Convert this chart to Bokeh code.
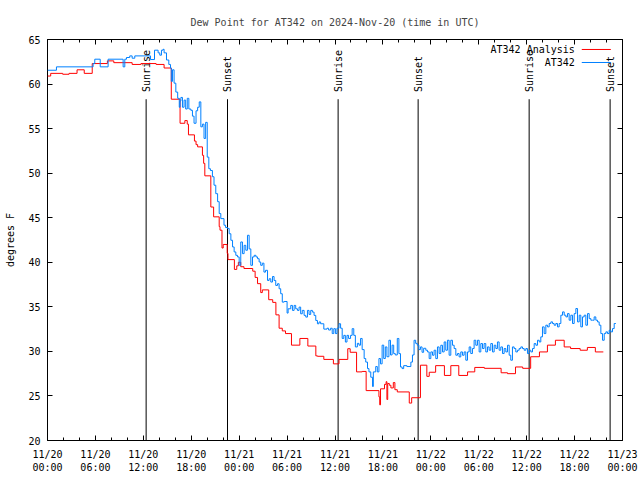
import math
from bokeh.plotting import figure
from bokeh.models import Range1d, FixedTicker, LinearAxis
from bokeh.embed import file_html
from bokeh.resources import INLINE
from bokeh.core.properties import value

# ---------------- data (hours since 2024-11-20 00:00 UTC) ----------------
title_text = "Dew Point for AT342 on 2024-Nov-20 (time in UTC)"
y_label = "degrees F"
series_names = ["AT342 Analysis", "AT342"]

x_ticks = [0, 6, 12, 18, 24, 30, 36, 42, 48, 54, 60, 66, 72]
x_tick_labels = ["11/20\n00:00", "11/20\n06:00", "11/20\n12:00", "11/20\n18:00",
                 "11/21\n00:00", "11/21\n06:00", "11/21\n12:00", "11/21\n18:00",
                 "11/22\n00:00", "11/22\n06:00", "11/22\n12:00", "11/22\n18:00",
                 "11/23\n00:00"]
x_minor = [0, 2, 4, 6, 8, 10, 12, 14, 16, 18, 20, 22, 24, 26, 28, 30, 32, 34, 36,
           38, 40, 42, 44, 46, 48, 50, 52, 54, 56, 58, 60, 62, 64, 66, 68, 70, 72]
y_ticks = [20, 25, 30, 35, 40, 45, 50, 55, 60, 65]

sun_hours = [12.35, 22.54, 36.39, 46.41, 60.31, 70.45]
sun_labels = ["Sunrise", "Sunset", "Sunrise", "Sunset", "Sunrise", "Sunset"]

analysis_hours = [0.0, 0.4, 1.9, 2.7, 3.7, 4.6, 5.6, 7.5, 8.3, 10.6, 11.7, 13.6, 14.6,
                  15.5, 16.6, 17.2, 17.5, 17.65, 18.4, 18.6, 18.8, 19.4, 19.55, 19.7,
                  20.45, 20.8, 21.5, 21.6, 21.85, 22.0, 22.5, 22.6, 23.4, 23.7, 23.9,
                  24.2, 24.6, 25.7, 26.0, 26.3, 26.7, 26.9, 27.7, 28.2, 28.6, 29.0,
                  29.4, 29.8, 30.55, 31.6, 32.6, 33.6, 33.8, 34.6, 35.8, 36.5, 37.6,
                  37.9, 38.7, 39.4, 39.9, 41.5, 41.6, 41.7, 42.2, 42.4, 42.5, 42.6,
                  42.8, 43.0, 43.3, 43.5, 43.8, 45.3, 45.6, 46.7, 47.5, 47.8, 48.6,
                  49.7, 50.5, 51.5, 52.6, 53.5, 54.7, 56.8, 57.6, 58.6, 59.5, 60.5,
                  61.6, 62.6, 63.6, 64.7, 65.5, 66.7, 67.6, 68.6, 69.6]
analysis_dewpt = [60.9, 61.2, 61.1, 61.2, 61.6, 61.2, 62.3, 62.6, 62.4, 62.2, 62.3, 62.2, 61.8,
                  58.3, 55.6, 55.9, 55.5, 54.3, 53.6, 53.2, 52.95, 52.0, 51.1, 49.7,
                  46.2, 45.1, 44.0, 43.6, 41.6, 42.0, 41.0, 40.3, 39.2, 39.6, 40.0,
                  39.5, 39.3, 39.0, 38.3, 37.6, 36.6, 36.9, 35.8, 35.5, 34.1, 32.6,
                  32.3, 32.0, 30.7, 31.45, 30.6, 29.5, 29.45, 29.1, 28.6, 29.1, 30.3,
                  29.9, 27.7, 27.75, 25.6, 24.9, 24.0, 25.8, 26.3, 26.6, 24.6, 26.4,
                  26.2, 25.9, 26.5, 25.7, 25.45, 24.2, 24.8, 28.45, 27.2, 27.66, 28.4,
                  27.3, 28.4, 27.3, 27.7, 28.2, 28.1, 27.6, 27.5, 28.25, 28.1, 29.4,
                  29.94, 30.7, 31.25, 30.5, 30.32, 30.13, 30.44, 29.94, 29.94]

obs_hours_a = [0.0, 1.12, 5.71, 5.92, 6.6, 7.59, 9.47, 9.68, 9.89, 10.3, 10.6, 10.93,
               12.9, 13.4, 13.85, 14.06, 14.27, 14.47, 14.6, 14.9, 15.19, 15.4, 15.5,
               15.65, 15.85, 16.07, 16.3, 16.5, 16.6, 16.7, 16.9, 17.1, 17.3, 17.5,
               17.7, 17.95, 18.15, 18.35, 18.6, 18.8, 19.0, 19.2, 19.4, 19.6, 19.8,
               20.0, 20.2, 20.4, 20.65, 20.85, 21.07, 21.3, 21.5, 21.7, 22.1, 22.3]
obs_dewpt_a = [61.55, 61.93, 62.3, 62.79, 61.93, 62.79, 61.93, 62.79, 62.98, 63.16, 62.9, 63.16,
               62.75, 63.8, 63.5, 63.24, 63.8, 63.9, 63.5, 62.7, 62.2, 61.8, 60.3,
               61.6, 60.1, 59.1, 58.4, 57.4, 58.1, 58.5, 57.4, 58.2, 57.2, 58.4,
               57.2, 57.05, 56.4, 55.6, 57.0, 57.4, 58.0, 55.2, 55.5, 53.9, 55.7,
               51.8, 50.5, 50.3, 49.6, 48.65, 47.7, 46.8, 45.47, 44.9, 44.16, 43.9]

obs_hours_b = [22.54, 22.75, 22.96, 23.17, 23.37, 23.58, 23.79, 24.0, 24.2, 24.41, 24.62,
               24.83, 25.04, 25.25, 25.46, 25.67, 25.88, 26.1, 26.3, 26.5, 26.7, 26.9,
               27.1, 27.3, 27.55, 27.75, 27.96, 28.17, 28.37, 28.58, 28.8, 29.0, 29.2,
               29.4, 29.63, 30.0, 30.13, 30.46, 30.67, 30.88, 31.08, 31.3, 31.5, 31.7,
               31.9, 32.13, 32.34, 32.55, 32.75, 32.96, 33.17, 33.38, 33.59, 33.8, 34.0]
obs_dewpt_b = [43.8, 43.2, 42.47, 41.72, 41.16, 40.78, 40.6, 39.66, 42.28, 40.97, 41.9,
               41.35, 43.03, 41.5, 39.66, 40.6, 40.78, 40.6, 40.4, 40.03, 39.66, 39.9,
               38.9, 39.1, 37.96, 38.15, 37.78, 38.4, 37.96, 37.4, 37.59, 37.03, 36.47,
               35.53, 35.6, 34.3, 34.78, 35.16, 34.6, 35.16, 34.78, 34.6, 34.97, 34.22,
               34.6, 34.04, 33.85, 34.6, 34.15, 34.6, 34.41, 34.04, 33.47, 33.1, 33.3]

obs_hours_c = [34.2, 34.6, 35.0, 35.2, 35.45, 35.65, 35.85, 36.05, 36.25, 36.5, 36.7,
               36.9, 37.1, 37.3, 37.5, 37.7, 37.95, 38.15, 38.35, 38.55, 38.8, 39.0,
               39.2, 39.4, 39.65, 39.85, 40.07, 40.25, 40.48, 40.7, 40.8, 41.1, 41.3,
               41.5, 41.7, 41.9, 42.1, 42.3, 42.5, 42.75, 42.95, 43.15, 43.35, 43.55,
               43.8, 44.0, 44.2, 44.4, 44.6, 45.0, 45.5, 45.7, 45.9, 46.1, 46.3, 46.5,
               46.7, 46.9, 47.1]
obs_dewpt_c = [33.1, 32.5, 32.6, 32.4, 32.6, 32.0, 32.55, 32.0, 32.6, 33.1, 32.6,
               31.45, 31.8, 31.05, 31.8, 31.45, 31.8, 32.55, 31.8, 30.5, 30.9, 30.7,
               31.45, 30.2, 29.2, 28.8, 28.07, 27.7, 27.1, 26.06, 27.7, 28.3, 27.7,
               29.2, 28.6, 30.7, 29.2, 30.5, 29.4, 31.25, 29.6, 30.7, 29.75, 29.6,
               31.45, 29.75, 28.25, 28.07, 28.4, 28.3, 28.8, 29.6, 31.25, 30.9, 30.7, 30.2,
               30.5, 29.9, 30.35]

obs_hours_d = [47.37, 47.58, 47.79, 48.0, 48.21, 48.41, 48.62, 48.83, 49.04, 49.25,
               49.46, 49.67, 49.87, 50.08, 50.29, 50.5, 50.71, 50.92, 51.13, 51.34,
               51.54, 51.75, 51.96, 52.17, 52.38, 52.59, 52.8, 53.0, 53.21, 53.42,
               53.63, 53.84, 54.05, 54.26, 54.47, 54.67, 54.88, 55.09, 55.3, 55.51,
               55.72, 55.93, 56.14, 56.34, 56.55, 56.76, 56.97, 57.18, 57.39, 57.6,
               57.81, 58.01, 58.22, 58.43, 58.64, 58.85, 59.06]
obs_dewpt_d = [30.13, 29.94, 29.19, 29.94, 29.57, 30.13, 29.19, 30.5, 29.76, 30.69,
               29.94, 31.06, 30.13, 31.25, 29.57, 31.25, 30.69, 30.32, 29.57, 29.76,
               29.38, 29.94, 29.57, 29.94, 29.01, 29.94, 30.5, 29.76, 30.32, 31.25,
               30.69, 31.25, 29.94, 30.88, 30.32, 30.88, 29.94, 30.5, 30.13, 30.88,
               29.94, 30.69, 30.32, 31.06, 30.13, 30.5, 29.76, 30.32, 29.94, 30.69,
               29.57, 29.01, 30.5, 30.32, 29.94, 30.13, 30.32]

obs_hours_e = [59.27, 59.48, 59.69, 59.9, 60.1, 60.31, 60.52, 60.73, 60.94, 61.15,
               61.36, 61.57, 61.77, 61.98, 62.19, 62.4, 62.61, 62.82, 63.03, 63.24,
               63.44, 63.65, 63.86, 64.07, 64.28, 64.49, 64.7, 64.91, 65.11, 65.32,
               65.53, 65.74, 65.95, 66.16, 66.37, 66.58, 66.78, 66.99, 67.2, 67.41,
               67.62, 67.83, 68.04, 68.25, 68.45, 68.66, 68.87, 69.08, 69.29, 69.5,
               69.71, 69.92, 70.12, 70.33, 70.54, 70.75, 70.96, 71.17]
obs_dewpt_e = [30.5, 30.32, 30.13, 30.32, 29.76, 30.13, 29.94, 30.32, 30.88, 30.69,
               31.25, 31.06, 31.63, 32.75, 32.0, 32.94, 32.75, 33.13, 33.31, 33.13,
               32.94, 33.13, 32.75, 33.13, 34.06, 34.43, 34.06, 33.87, 34.24, 33.5,
               34.06, 33.13, 34.24, 34.81, 33.31, 34.06, 32.75, 33.87, 34.06, 32.94,
               34.24, 33.68, 33.5, 33.5, 33.87, 33.5, 33.31, 32.94, 32.0, 31.25,
               32.0, 32.19, 32.0, 32.37, 32.19, 32.56, 33.13, 33.13]

obs_hours = obs_hours_a + obs_hours_b + obs_hours_c + obs_hours_d + obs_hours_e
obs_dewpt = obs_dewpt_a + obs_dewpt_b + obs_dewpt_c + obs_dewpt_d + obs_dewpt_e

# ---------------- styling ----------------
FONT = "DejaVu Sans Mono"
FS = "10px"
RED = "#ff0000"
BLUE = "#0080ff"

p = figure(width=640, height=480, output_backend="svg", toolbar_location=None,
           x_range=Range1d(0, 72), y_range=Range1d(20, 65),
           min_border_left=47, min_border_right=18, min_border_top=39, min_border_bottom=40,
           title=title_text)
p.grid.visible = False
p.outline_line_color = "black"
p.outline_line_width = 1
p.background_fill_color = "white"
p.border_fill_color = "white"

p.title.text_font = FONT
p.title.text_font_size = FS
p.title.text_font_style = "normal"
p.title.align = "center"
p.title.standoff = 23

xax = p.xaxis[0]
xax.ticker = FixedTicker(ticks=x_ticks, minor_ticks=x_minor)
xax.major_label_overrides = {t: lab for t, lab in zip(x_ticks, x_tick_labels)}
xax.major_tick_in = 5
xax.major_tick_out = 0
xax.minor_tick_in = 3
xax.minor_tick_out = 0
xax.axis_line_color = None
xax.major_label_standoff = 8
xax.major_label_text_font = FONT
xax.major_label_text_font_size = FS
xax.major_label_text_color = "black"

yax = p.yaxis[0]
yax.ticker = FixedTicker(ticks=y_ticks, minor_ticks=[])
yax.major_tick_in = 5
yax.major_tick_out = 0
yax.minor_tick_line_color = None
yax.axis_line_color = None
yax.major_label_standoff = 7
yax.major_label_text_font = FONT
yax.major_label_text_font_size = FS
yax.major_label_text_color = "black"
yax.axis_label = y_label
yax.axis_label_text_font = FONT
yax.axis_label_text_font_size = FS
yax.axis_label_text_font_style = "normal"
yax.axis_label_text_color = "black"
yax.axis_label_standoff = 9

top = LinearAxis(ticker=FixedTicker(ticks=x_ticks, minor_ticks=x_minor),
                 major_tick_in=5, major_tick_out=0, minor_tick_in=3, minor_tick_out=0,
                 axis_line_color=None, major_label_text_font_size="0px",
                 major_label_standoff=0, major_label_text_alpha=0)
p.add_layout(top, "above")
right = LinearAxis(ticker=FixedTicker(ticks=y_ticks, minor_ticks=[]),
                   major_tick_in=5, major_tick_out=0, minor_tick_line_color=None,
                   axis_line_color=None, major_label_text_font_size="0px",
                   major_label_standoff=0, major_label_text_alpha=0)
p.add_layout(right, "right")

# sunrise / sunset markers
p.segment(x0=sun_hours, y0=[20] * len(sun_hours), x1=sun_hours, y1=[58.3] * len(sun_hours),
          line_color="black", line_width=1)
p.text(x=sun_hours, y=[59.1] * len(sun_hours), text=sun_labels, angle=math.pi / 2,
       text_align="left", text_baseline="middle", text_font=value(FONT),
       text_font_size=value(FS), text_color="black")

# series
p.step(analysis_hours, analysis_dewpt, mode="after", line_color=RED, line_width=1)
p.step(obs_hours, obs_dewpt, mode="after", line_color=BLUE, line_width=1)

# key (top right, gnuplot style: text then sample line)
key_text_x = 66.03
key_line_x0, key_line_x1 = 66.9, 70.54
key_y = [63.88, 62.42]
key_colors = [RED, BLUE]
p.text(x=[key_text_x] * 2, y=key_y, text=series_names, text_align="right",
       text_baseline="middle", text_font=value(FONT), text_font_size=value(FS),
       text_color="black")
p.segment(x0=[key_line_x0] * 2, y0=key_y, x1=[key_line_x1] * 2, y1=key_y,
          line_color=key_colors, line_width=1)

open("out.html", "w").write(file_html(p, INLINE))
